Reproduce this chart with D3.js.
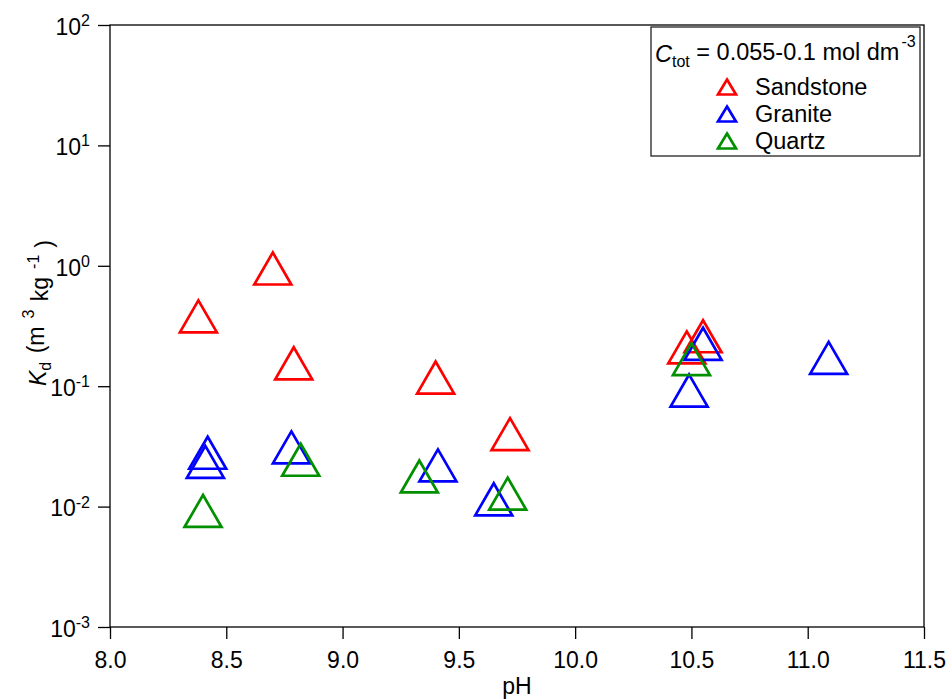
<!DOCTYPE html>
<html>
<head>
<meta charset="utf-8">
<script src="https://cdn.jsdelivr.net/npm/d3@7"></script>
<style>
  html, body { margin: 0; padding: 0; background: #fff; }
  svg { display: block; font-family: "Liberation Sans", Arial, sans-serif; }
</style>
</head>
<body>
<svg id="chart" width="952" height="699"></svg>
<script>
// Kd versus pH for three solid phases (Ctot = 0.055-0.1 mol dm^-3)
const sandstonePH = [8.70, 8.38, 8.79, 9.40, 9.72, 10.48, 10.55];
const sandstoneKd = [0.95, 0.38, 0.155, 0.118, 0.040, 0.21, 0.26];

const granitePH = [8.42, 8.41, 8.78, 9.41, 9.65, 10.55, 10.49, 11.09];
const graniteKd = [0.028, 0.0235, 0.031, 0.022, 0.0115, 0.225, 0.092, 0.172];

const quartzPH = [8.40, 8.82, 9.33, 9.71, 10.50];
const quartzKd = [0.0092, 0.0245, 0.0178, 0.0128, 0.168];

const seriesNames = ["Sandstone", "Granite", "Quartz"];
const seriesColors = ["#ff0000", "#0000ff", "#009000"];

const xTicks = [8.0, 8.5, 9.0, 9.5, 10.0, 10.5, 11.0, 11.5];
const yTicks = [1e-3, 1e-2, 1e-1, 1e0, 1e1, 1e2];
const yExponents = [-3, -2, -1, 0, 1, 2];

const series = [
  { name: seriesNames[0], color: seriesColors[0], ph: sandstonePH, kd: sandstoneKd },
  { name: seriesNames[1], color: seriesColors[1], ph: granitePH, kd: graniteKd },
  { name: seriesNames[2], color: seriesColors[2], ph: quartzPH, kd: quartzKd }
];

const svg = d3.select("#chart");
const plotL = 110, plotR = 924, plotT = 25, plotB = 627;
const FONT = "Liberation Sans, Arial, sans-serif";
const fs = 23;

const x = d3.scaleLinear().domain([8.0, 11.5]).range([plotL, plotR]);
const y = d3.scaleLog().domain([1e-3, 1e2]).range([plotB, plotT]);

// open triangle centred on its bounding box
function triangle(w, h) {
  return `M0,${-h / 2}L${w / 2},${h / 2}L${-w / 2},${h / 2}Z`;
}

// plot frame
svg.append("rect")
  .attr("x", plotL).attr("y", plotT)
  .attr("width", plotR - plotL).attr("height", plotB - plotT)
  .attr("fill", "none").attr("stroke", "#000").attr("stroke-width", 1.3);

// x axis
const xAxis = svg.append("g")
  .attr("transform", `translate(0,${plotB})`)
  .call(d3.axisBottom(x).tickValues(xTicks).tickSize(12).tickPadding(13)
    .tickFormat(d3.format(".1f")));
xAxis.select(".domain").remove();
xAxis.selectAll(".tick line").attr("stroke", "#000").attr("stroke-width", 1.3);
xAxis.selectAll(".tick text").attr("font-size", fs).attr("fill", "#000")
  .attr("font-family", FONT);

// y axis with power-of-ten labels
const yAxis = svg.append("g")
  .attr("transform", `translate(${plotL},0)`)
  .call(d3.axisLeft(y).tickValues(yTicks).tickSize(12).tickFormat(() => ""));
yAxis.select(".domain").remove();
yAxis.selectAll(".tick line").attr("stroke", "#000").attr("stroke-width", 1.3);
yAxis.selectAll(".tick").each(function (d) {
  const t = d3.select(this).select("text").text(null)
    .attr("x", -20).attr("dy", "0.4em")
    .attr("font-size", fs).attr("fill", "#000")
    .attr("font-family", FONT);
  t.append("tspan").text("10");
  t.append("tspan").attr("dy", "-0.55em").attr("font-size", 16)
    .text(yExponents[yTicks.indexOf(d)]);
});

// axis titles
svg.append("text")
  .attr("x", (plotL + plotR) / 2).attr("y", 694)
  .attr("text-anchor", "middle").attr("font-size", fs)
  .text("pH");

const yTitle = svg.append("text")
  .attr("transform", `translate(46,313) rotate(-90)`)
  .attr("text-anchor", "middle").attr("font-size", fs);
yTitle.append("tspan").attr("font-style", "italic").text("K");
yTitle.append("tspan").attr("font-size", 16).attr("dy", "0.3em").text("d");
yTitle.append("tspan").attr("dy", "-0.3em").attr("dx", 2).text(" (m");
yTitle.append("tspan").attr("font-size", 16).attr("dy", "-0.6em").attr("dx", 8).text("3");
yTitle.append("tspan").attr("dy", "0.6em").attr("dx", 2).text(" kg");
yTitle.append("tspan").attr("font-size", 16).attr("dy", "-0.6em").attr("dx", 8).text("-1");
yTitle.append("tspan").attr("dy", "0.6em").attr("dx", 7).text(")");

// data markers
series.forEach(s => {
  svg.append("g").selectAll("path")
    .data(s.ph.map((p, i) => ({ ph: p, kd: s.kd[i] })))
    .join("path")
    .attr("transform", d => `translate(${x(d.ph)},${y(d.kd)})`)
    .attr("d", triangle(37, 32))
    .attr("fill", "none")
    .attr("stroke", s.color)
    .attr("stroke-width", 2.7)
    .attr("stroke-linejoin", "miter");
});

// legend
const lg = svg.append("g");
lg.append("rect")
  .attr("x", 651).attr("y", 27).attr("width", 269).attr("height", 129)
  .attr("fill", "#fff").attr("stroke", "#222").attr("stroke-width", 1.3);

const head = lg.append("text").attr("x", 655).attr("y", 62).attr("font-size", 23.5);
head.append("tspan").attr("font-style", "italic").text("C");
head.append("tspan").attr("font-size", 16).attr("dy", "0.3em").text("tot");
head.append("tspan").attr("dy", "-0.3em").text(" = 0.055-0.1 mol dm");
head.append("tspan").attr("font-size", 16).attr("dy", "-0.8em").attr("dx", 2).text("-3");

series.forEach((s, i) => {
  const cy = 87 + i * 27;
  lg.append("path")
    .attr("transform", `translate(727,${cy})`)
    .attr("d", triangle(18, 15))
    .attr("fill", "none").attr("stroke", s.color).attr("stroke-width", 2.7);
  lg.append("text")
    .attr("x", 755).attr("y", cy).attr("dy", "0.36em")
    .attr("font-size", 23.5).text(s.name);
});
</script>
</body>
</html>
